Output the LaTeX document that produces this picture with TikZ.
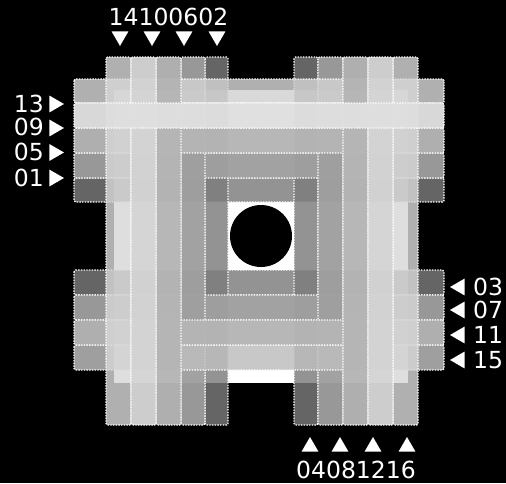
\documentclass[tikz,border=0pt]{standalone}
\usepackage{fontspec}
\setmainfont{DejaVu Sans}
\usetikzlibrary{shapes.geometric}
% strip tones (the ends over black show these times the opacity)
\definecolor{innerdark}{RGB}{124,124,124}
\definecolor{middark}{RGB}{159,159,159}
\definecolor{midgrey}{RGB}{181,181,181}
\definecolor{outerlow}{RGB}{190,190,190}
\definecolor{outergrey}{RGB}{210,210,210}
\definecolor{midlight}{RGB}{212,212,212}
\definecolor{outerlight}{RGB}{215,215,215}
\definecolor{toplight}{RGB}{223,223,223}
\tikzset{
  strip/.style = {fill=#1, rounded corners=1.5pt},
  seam/.style  = {draw=white, line width=1.4pt, dash pattern=on 1.4pt off 1.3pt,
                  rounded corners=1.5pt},
  tri/.style   = {regular polygon, regular polygon sides=3, fill=white,
                  minimum size=19.6pt, inner sep=0pt},
  tag/.style   = {text=white, inner sep=0pt, font=\fontsize{23.5}{26}\selectfont},
}

\begin{document}
\begin{tikzpicture}[x=1pt,y=-1pt]
  \fill[black] (0,0) rectangle (506,483);
  \useasboundingbox (0,0) rectangle (506,483);
  \fill[white] (113.5,89.5) rectangle (407.5,383);
  % strips, darker first so the lighter ones lie on top
  \foreach \xa/\ya/\xb/\yb/\tone/\al in {
      74/178/444/202/innerdark/0.82, 74/270/444/295/innerdark/0.82,
      205/57/228/425/innerdark/0.82, 294/57/318/425/innerdark/0.82,
      74/153/444/178/middark/0.96, 74/295/444/320/middark/0.96,
      181/57/205/425/middark/0.96, 318/57/343/425/middark/0.96,
      74/345/444/370/outerlow/0.84,
      74/79/444/103/outergrey/0.84,
      74/128/444/153/midgrey/0.97, 74/320/444/345/midgrey/0.97,
      156/57/181/425/midgrey/0.97, 343/57/368/425/midgrey/0.97,
      106/57/131/425/outerlight/0.82, 393/57/418/425/outerlight/0.82,
      131/57/156/425/midlight/0.97, 368/57/393/425/midlight/0.97,
      74/103/444/128/toplight/0.97}
  {
    \fill[strip=\tone, fill opacity=\al] (\xa,\ya) rectangle (\xb,\yb);
    \draw[seam] (\xa,\ya) rectangle (\xb,\yb);
  }
  \fill[black] (261,236) circle (31pt);

  % entry marks
  \node[tag, anchor=base] (toptag) at (168.5,25) {14100602};
  \foreach \x [count=\i] in {120,152,184,217}
    \node[tri, shape border rotate=180] (top\i) at (\x,36.2) {};
  \node[tag, anchor=base] (bottag) at (356,478) {04081216};
  \foreach \x [count=\i] in {310,340,373,407}
    \node[tri] (bot\i) at (\x,446.8) {};
  \foreach \y/\b/\t [count=\i] in {104/112/13,128/135.5/09,152.5/160/05,178/186/01} {
    \node[tri, shape border rotate=-90] (left\i) at (54.2,\y) {};
    \node[tag, anchor=base east] (lefttag\i) at (44,\b) {\t};
  }
  \foreach \y/\b/\t [count=\i] in {287/295/03,310/318/07,335/343/11,360/368/15} {
    \node[tri, shape border rotate=90] (right\i) at (459.8,\y) {};
    \node[tag, anchor=base west] (righttag\i) at (473,\b) {\t};
  }
\end{tikzpicture}
\end{document}
